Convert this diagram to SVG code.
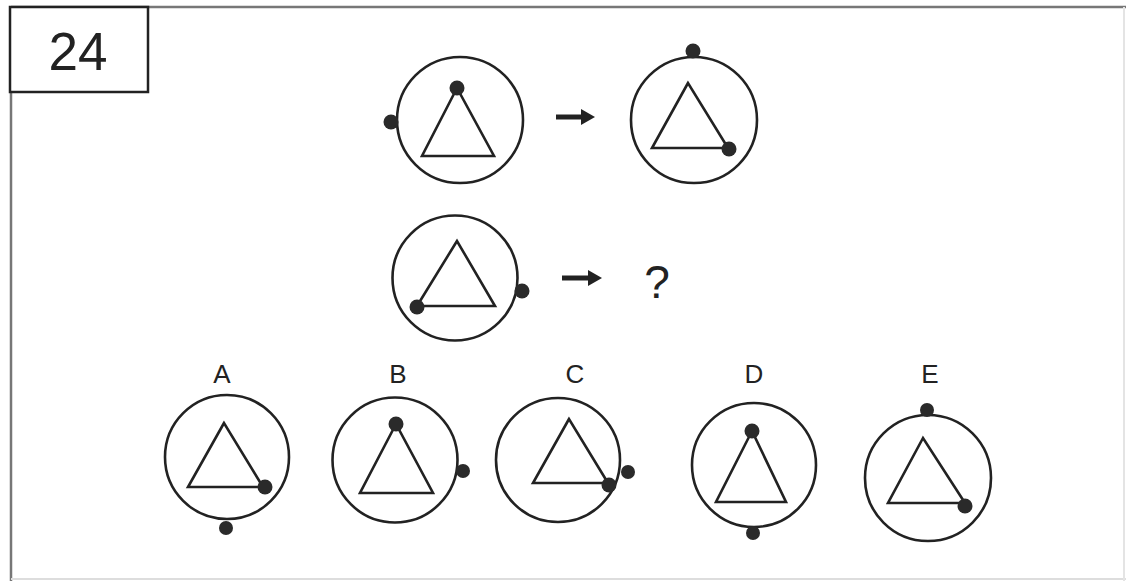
<svg xmlns="http://www.w3.org/2000/svg" width="1126" height="581" viewBox="0 0 1126 581">
<style>
.ring{fill:none;stroke:#222;stroke-width:2.6}
.tri{fill:none;stroke:#222;stroke-width:2.6;stroke-linejoin:miter}
.dot{fill:#2a2a2a}
.lbl{font-family:"Liberation Sans",Arial,sans-serif;fill:#222;text-anchor:middle}
.frame{fill:none;stroke:#777;stroke-width:2.5}
.arr{stroke:#222;stroke-width:5;fill:none}
.head{fill:#222}
</style>
<rect width="1126" height="581" fill="#fff"/>
<g id="frame">
<line class="frame" x1="11" y1="7" x2="1126" y2="7"/>
<line class="frame" x1="11" y1="7" x2="11" y2="581"/>
<line x1="11" y1="579" x2="1126" y2="579" stroke="#ddd" stroke-width="2"/>
<line x1="1124" y1="7" x2="1124" y2="581" stroke="#e4e4e4" stroke-width="2"/>
</g>
<g id="number">
<rect x="10" y="7" width="138" height="85" fill="#fff" stroke="#222" stroke-width="2.5"/>
<text class="lbl" x="78" y="70" font-size="53">24</text>
</g>
<g id="q1">
<circle class="ring" cx="460" cy="120" r="63"/>
<polygon class="tri" points="457,88 422,156 494,156"/>
<circle class="dot" cx="457" cy="88" r="7.5"/>
<circle class="dot" cx="391" cy="122" r="7.5"/>
</g>
<g id="q2">
<circle class="ring" cx="694" cy="120" r="63"/>
<polygon class="tri" points="688,83 652,148 728,148"/>
<circle class="dot" cx="729" cy="149" r="7.5"/>
<circle class="dot" cx="693" cy="51" r="7.5"/>
</g>
<g id="q3">
<circle class="ring" cx="455" cy="278" r="62.5"/>
<polygon class="tri" points="457,241 417,306 495,306"/>
<circle class="dot" cx="417" cy="307" r="7.5"/>
<circle class="dot" cx="522" cy="291" r="7.5"/>
</g>
<g id="question">
<text class="lbl" x="657" y="298" font-size="46">?</text>
</g>
<g id="connectors">
<line class="arr" x1="556" y1="117" x2="584" y2="117"/>
<polygon class="head" points="581,109 595,117 581,125"/>
<line class="arr" x1="562" y1="278" x2="591" y2="278"/>
<polygon class="head" points="588,270 602,278 588,286"/>
</g>
<g id="optA">
<text class="lbl" x="222" y="383" font-size="26">A</text>
<circle class="ring" cx="227" cy="457" r="62"/>
<polygon class="tri" points="224,423 188,487 263,487"/>
<circle class="dot" cx="265" cy="487" r="7.5"/>
<circle class="dot" cx="226" cy="528" r="7"/>
</g>
<g id="optB">
<text class="lbl" x="398" y="383" font-size="26">B</text>
<circle class="ring" cx="395" cy="460" r="62.5"/>
<polygon class="tri" points="396,424 360,493 433,493"/>
<circle class="dot" cx="396" cy="424" r="7.5"/>
<circle class="dot" cx="463" cy="471" r="7"/>
</g>
<g id="optC">
<text class="lbl" x="575" y="383" font-size="26">C</text>
<circle class="ring" cx="558" cy="460" r="62"/>
<polygon class="tri" points="569,419 533,483 608,483"/>
<circle class="dot" cx="609" cy="485" r="7.5"/>
<circle class="dot" cx="628" cy="472" r="7"/>
</g>
<g id="optD">
<text class="lbl" x="754" y="383" font-size="26">D</text>
<circle class="ring" cx="754" cy="465" r="62"/>
<polygon class="tri" points="752,431 716,502 786,502"/>
<circle class="dot" cx="752" cy="431" r="7.5"/>
<circle class="dot" cx="753" cy="533" r="7"/>
</g>
<g id="optE">
<text class="lbl" x="930" y="383" font-size="26">E</text>
<circle class="ring" cx="928" cy="478" r="63"/>
<polygon class="tri" points="923,438 888,503 965,503"/>
<circle class="dot" cx="965" cy="506" r="7.5"/>
<circle class="dot" cx="927" cy="410" r="7"/>
</g>
</svg>
